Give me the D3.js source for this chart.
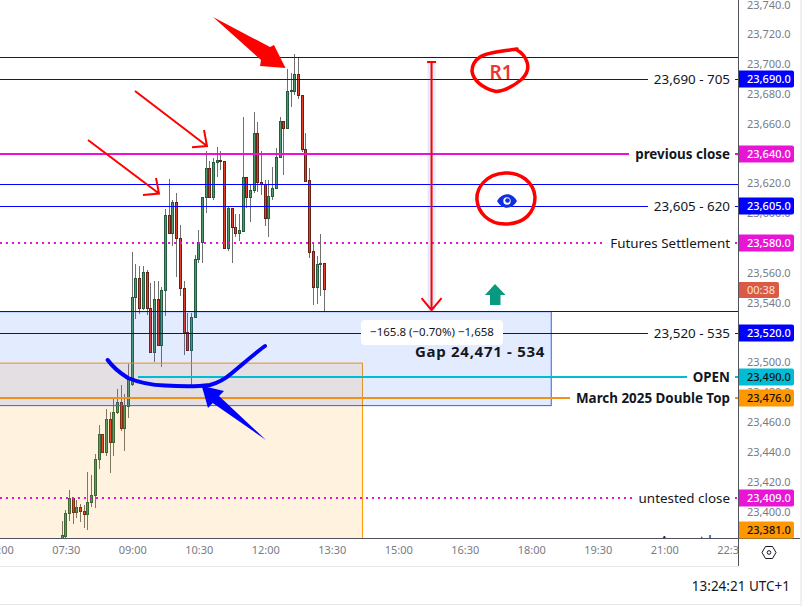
<!DOCTYPE html>
<html><head><meta charset="utf-8">
<script src="https://cdn.jsdelivr.net/npm/d3@7/dist/d3.min.js"></script>
<style>
html,body{margin:0;padding:0;background:#fff;overflow:hidden}
svg{display:block}
text{font-family:"Noto Sans",sans-serif}
</style></head><body><svg id="c" width="802" height="606"></svg>
<script>
// Five-minute candles, first one at 07:25
const startMinute = 445;
const stepMinutes = 5;
const opens  = [23380.8,23383.5,23398.9,23409,23399.6,23403,23400.3,23398.3,23406.3,23411,23435.1,23451.9,23439.8,23462,23446.6,23466.7,23473.4,23455.9,23470.7,
  23485.5,23543.8,23556.5,23536.4,23560.6,23536.4,23506.9,23542.5,23511.6,23548.5,23598.8,23586.7,23607.5,23583.4,23549.8,23520.3,23508.3,23530.4,23569.3,23580.7,
  23610.9,23630.3,23610.9,23634.3,23635.7,23635,23576.7,23603.5,23590.8,23586.7,23588.1,23624.3,23610.9,23615.6,23653.8,23620.9,23619.6,23596.8,23611.5,23616.9,
  23637.7,23661.8,23657.2,23682,23682,23693.4,23679.3,23643.1,23622.3,23574.7,23550.5,23565.9,23566.6];
const highs  = [23393.6,23400.9,23414.4,23409,23407.6,23405,23404.3,23426.4,23424.4,23438.5,23458,23451.9,23468.7,23466.7,23475.4,23482.1,23484.8,23478.7,23498.9,
  23574,23565.9,23564.6,23564.6,23561.9,23553.2,23554.5,23554.5,23550.5,23602.8,23622.9,23608.9,23613.6,23592.1,23554.5,23533.1,23533.1,23572,23588.7,23610.9,
  23641.7,23635,23637,23644.4,23641.7,23635,23604.2,23603.5,23599.5,23599.5,23664.5,23624.3,23619.6,23667.9,23661.2,23641.7,23622.3,23622.3,23631,23643.7,
  23664.5,23661.8,23696.7,23694,23706.8,23704.8,23679.3,23653.8,23630.3,23580,23571.3,23586.1,23566.6];
const lows   = [23378,23382.2,23393.6,23391.6,23395.6,23392.9,23388.9,23387.5,23403,23402.3,23428.4,23439.8,23437.2,23425.8,23437.2,23465.4,23453.9,23440.5,23462.6,
  23484.1,23529.1,23532.4,23535.1,23531.7,23506.9,23500.2,23511.6,23496.9,23531.1,23586.7,23578,23557.2,23544.5,23504.9,23508.3,23484.8,23529.7,23566.6,23566.6,
  23600.1,23610.9,23608.9,23624.3,23629,23576.7,23574.7,23566.6,23584,23581.4,23588.1,23603.5,23594.1,23613.6,23614.2,23612.2,23591.4,23584,23608.9,23616.9,
  23637,23625.6,23657.2,23671.2,23679.3,23676.6,23641.1,23620.9,23570,23538.4,23539.1,23544.5,23533.7];
const closes = [23384.2,23398.9,23409,23399.6,23403,23400.3,23398.3,23406.3,23411,23435.1,23451.9,23439.8,23462,23446.6,23466.7,23473.4,23455.9,23471.4,23489.5,
  23543.8,23556.5,23536.4,23560.6,23536.4,23506.9,23542.5,23511.6,23548.5,23598.8,23586.7,23607.5,23583.4,23549.8,23520.3,23508.3,23530.4,23569.3,23580.7,23610.9,
  23630.3,23610.9,23634.3,23635.7,23635,23576.7,23603.5,23590.8,23586.7,23588.7,23624.3,23610.9,23615.6,23653.8,23620.9,23619.6,23596.8,23611.5,23616.9,23637.7,
  23661.8,23657.2,23682,23682.6,23693.4,23679.3,23643.1,23621.6,23574,23550.5,23565.9,23566.6,23549.2];
const priceTicks = [23740,23720,23700,23680,23660,23620,23600,23560,23540,23500,23480,23460,23440,23420,23400];
const timeLabels = ["06:00","07:30","09:00","10:30","12:00","13:30","15:00","16:30","18:00","19:30","21:00","22:30"];
const timeMinutes = [360,450,540,630,720,810,900,990,1080,1170,1260,1350];
// Horizontal levels
const levelPrices = [23690,23640,23605,23580,23520,23490,23476,23409,23381];
const levelTexts  = ["23,690 - 705","previous close","23,605 - 620","Futures Settlement","23,520 - 535","OPEN","March 2025 Double Top","untested close","August low"];
const levelColors = ["#0000ff","#ee10d8","#0000ff","#ee10d8","#0000ff","#00bcd4","#f0921a","#ee10d8","#f0921a"];
const levelBold   = [false,true,false,false,false,true,true,false,false];
const levelDotted = [false,false,false,true,false,false,false,true,false];
const levelWidths = [1,2,1,2,1,2,2,2,1];
const plainLevels = [23705,23619.7,23534.5];
const tagPrices = [23690,23640,23605,23580,23520,23490,23476,23409,23381];
const tagColors = ["#0000ff","#e815d5","#0000ff","#e815d5","#0000ff","#00bcd4","#ff9800","#e815d5","#ff9800"];
const tagText   = ["#fff","#fff","#fff","#fff","#fff","#111","#111","#fff","#111"];
const gapZone = {top:23534, bottom:23471, endMinute:1107};
const doubleTopZone = {top:23499.5, bottom:23370, endMinute:851.5};

const PW=738,PH=538;
const svg=d3.select("#c");
const y=d3.scaleLinear().domain([23743,23400]).range([0,511.5]);
const x=d3.scaleLinear().domain([540,1260]).range([132.3,664.3]);
const F="'Noto Sans',sans-serif";

svg.append("defs").append("clipPath").attr("id","pane").append("rect").attr("width",PW).attr("height",PH);
const pane=svg.append("g").attr("clip-path","url(#pane)");

// candles
const rows=opens.map((o,i)=>({t:startMinute+i*stepMinutes,o,h:highs[i],l:lows[i],c:closes[i]}));
const g=pane.append("g");
rows.forEach(d=>{
  const cx=Math.floor(x(d.t))+0.5, up=d.c>=d.o;
  g.append("line").attr("x1",cx).attr("x2",cx).attr("y1",y(d.h)).attr("y2",y(d.l)).attr("stroke","#6f6f6f").attr("stroke-width",1).attr("shape-rendering","crispEdges");
  const t=Math.round(y(Math.max(d.o,d.c))), b=Math.round(y(Math.min(d.o,d.c)));
  g.append("rect").attr("x",cx-1).attr("width",2).attr("y",t+0.5).attr("height",Math.max(b-t,1))
    .attr("fill",up?"#4f9a6c":"#e0402a").attr("stroke",up?"#235c3f":"#6b2015").attr("stroke-width",1).attr("shape-rendering","crispEdges");
});

// zones
const gz=gapZone, dz=doubleTopZone;
pane.append("rect").attr("x",-5).attr("y",y(dz.top)).attr("width",x(dz.endMinute)+5).attr("height",y(dz.bottom)-y(dz.top))
  .attr("fill","#ff9800").attr("fill-opacity",.13).attr("stroke","#ff9800").attr("stroke-width",1);
pane.append("rect").attr("x",-5).attr("y",y(gz.top)).attr("width",x(gz.endMinute)+5).attr("height",y(gz.bottom)-y(gz.top))
  .attr("fill","#2962ff").attr("fill-opacity",.13).attr("stroke","#2962ff").attr("stroke-width",1);

// plain full-width lines
plainLevels.forEach(p=>pane.append("line").attr("x1",0).attr("x2",PW).attr("y1",Math.round(y(p))+.5).attr("y2",Math.round(y(p))+.5).attr("stroke","#0000ff").attr("stroke-width",1));

// labelled levels
levelPrices.forEach((p,i)=>{
  const yy=Math.round(y(p))+(levelWidths[i]==1?.5:0);
  const t=pane.append("text").attr("x",730).attr("y",yy+4.5).attr("text-anchor","end").attr("fill","#131722")
    .attr("font-size",13.4).attr("font-weight",levelBold[i]?700:400).text(levelTexts[i]);
  const w=t.node().getComputedTextLength();
  const x0=(levelTexts[i]==="OPEN")?x(540)+6:0;
  const l=pane.append("g").attr("fill","none").attr("stroke",levelColors[i]).attr("stroke-width",levelWidths[i]).attr("shape-rendering","crispEdges");
  if(levelDotted[i])l.attr("stroke-dasharray","2 4");
  l.append("line").attr("x1",x0).attr("x2",730-w-6).attr("y1",yy).attr("y2",yy);
  l.append("line").attr("x1",735).attr("x2",PW).attr("y1",yy).attr("y2",yy);
});

// measure tool
const mx=x(945);
pane.append("rect").attr("x",mx-4).attr("width",8).attr("y",y(23702)).attr("height",y(23534)-y(23702)).attr("fill","#2962ff").attr("fill-opacity",.13);
const red="#ff0000";
pane.append("path").attr("d",`M${mx-4.5} ${y(23701.5)}H${mx+4.5}M${mx} ${y(23701.5)}V${y(23535)}M${mx-10} ${y(23535)-12}L${mx} ${y(23535)}L${mx+10} ${y(23535)-12}`).attr("fill","none").attr("stroke",red).attr("stroke-width",2);
pane.append("rect").attr("x",361).attr("y",320).attr("width",142).attr("height",25).attr("rx",4).attr("fill","#fff");
pane.append("text").attr("x",432).attr("y",336).attr("text-anchor","middle").attr("font-size",11.5).attr("fill","#131722").text("\u2212165.8 (\u22120.70%) \u22121,658");
pane.append("text").attr("x",545).attr("y",356.5).attr("text-anchor","end").attr("font-size",15).attr("font-weight",700).attr("letter-spacing",".7").attr("fill","#131722").text("Gap 24,471 - 534");

// hand drawings
pane.append("path").attr("d","M213 17L270 47L274 45L285.5 68L260 66L261 60Z").attr("fill",red);
const thin=(a,b,c,d,e,f,g2,h)=>pane.append("path").attr("d",`M${a} ${b}L${c} ${d}M${e} ${f}L${c} ${d}L${g2} ${h}`).attr("fill","none").attr("stroke",red).attr("stroke-width",2);
thin(135,91,207,146,204,130,192,147.3);
thin(88,140,159,193.5,156,178,143,195);
pane.append("path").attr("d","M517 49C505 51 488 52 480 57C474 61 472 66 472 71C473 80 482 88 496 91.5C507 91 516 84 522 79C527 74 529 68 527 62C525 56 521 52 516 49.5").attr("fill","none").attr("stroke",red).attr("stroke-width",3.5).attr("stroke-linecap","round");
pane.append("text").attr("x",501).attr("y",79).attr("text-anchor","middle").attr("font-size",19).attr("font-weight",600).attr("fill","#f03535").text("R1");
pane.append("path").attr("d","M477 200C476 188 486 174 505 173C520 172 534 182 535 197C535 212 525 224 505 224C488 224 478 212 477 200Z").attr("fill","none").attr("stroke",red).attr("stroke-width",3.5);
pane.append("path").attr("d","M497 201C502 192 512 192 517 201C512 210 502 210 497 201Z").attr("fill","#0f2fe0");
pane.append("circle").attr("cx",507).attr("cy",201).attr("r",3.7).attr("fill","#fff");
pane.append("circle").attr("cx",507.5).attr("cy",200.5).attr("r",2.3).attr("fill","#0f2fe0");
pane.append("path").attr("d","M495 284L505.5 295H500.5V305H490V295H485Z").attr("fill","#089981");
pane.append("path").attr("d","M107.7 360C112 366 120 373 128 378C140 383 150 385 165 385.5C180 386.5 195 387 210 385C218 383 225 379 232 373C243 364 254 354 265 346").attr("fill","none").attr("stroke","#0000ff").attr("stroke-width",4).attr("stroke-linecap","round");
pane.append("path").attr("d","M201.7 385.7L224 391L219 396L266 440L212.7 403L208 408Z").attr("fill","#0000ff");

// axes
const priceAxis=d3.axisRight(y).tickValues(priceTicks).tickSize(0).tickPadding(0).tickFormat(d=>d3.format(",.1f")(d));
const ay=svg.append("g").attr("transform",`translate(747,0)`).call(priceAxis);
ay.select(".domain").remove();
ay.selectAll("text").attr("font-size",11).attr("fill","#787b86").style("font-family",F);
const timeAxis=d3.axisBottom(x).tickValues(timeMinutes).tickSize(0).tickPadding(0).tickFormat((d,i)=>timeLabels[i]);
const ax=svg.append("g").attr("transform",`translate(0,546.5)`).call(timeAxis);
ax.select(".domain").remove();
ax.selectAll("text").attr("font-size",11).attr("fill","#787b86").style("font-family",F);
svg.append("rect").attr("x",739).attr("y",539).attr("width",63).attr("height",27).attr("fill","#fff");
svg.append("path").attr("d","M0 538.5H800M738.5 0V566").attr("fill","none").attr("stroke","#50535e");
svg.append("path").attr("d","M0 566.5H738M0 604.5H800").attr("fill","none").attr("stroke","#e6e6e6");
svg.append("rect").attr("x",800).attr("width",2).attr("height",606).attr("fill","#eef0f3");
svg.append("path").attr("d","M762 552.5L765.5 546.5H772.5L776 552.5L772.5 558.5H765.5Z").attr("fill","none").attr("stroke","#131722");
svg.append("circle").attr("cx",769).attr("cy",552.5).attr("r",1.8).attr("fill","none").attr("stroke","#131722");

// price tags
tagPrices.forEach((p,i)=>{
  const yy=Math.min(Math.round(y(p)),530);
  svg.append("path").attr("d",`M739 ${yy-8.5}H792a2 2 0 0 1 2 2V${yy+6.5}a2 2 0 0 1 -2 2H739Z`).attr("fill",tagColors[i]);
  svg.append("text").attr("x",747).attr("y",yy+4).attr("font-size",11).attr("font-weight",500).attr("fill",tagText[i]).text(d3.format(",.1f")(p));
});
svg.append("path").attr("d","M739 282H777a2 2 0 0 1 2 2V296a2 2 0 0 1 -2 2H739Z").attr("fill","#d95b46");
svg.append("text").attr("x",747).attr("y",294).attr("font-size",11).attr("fill","#ffe0d8").text("00:38");
svg.append("text").attr("x",790).attr("y",590.5).attr("text-anchor","end").attr("font-size",13.5).attr("fill","#131722").text("13:24:21 UTC+1");
</script></body></html>
